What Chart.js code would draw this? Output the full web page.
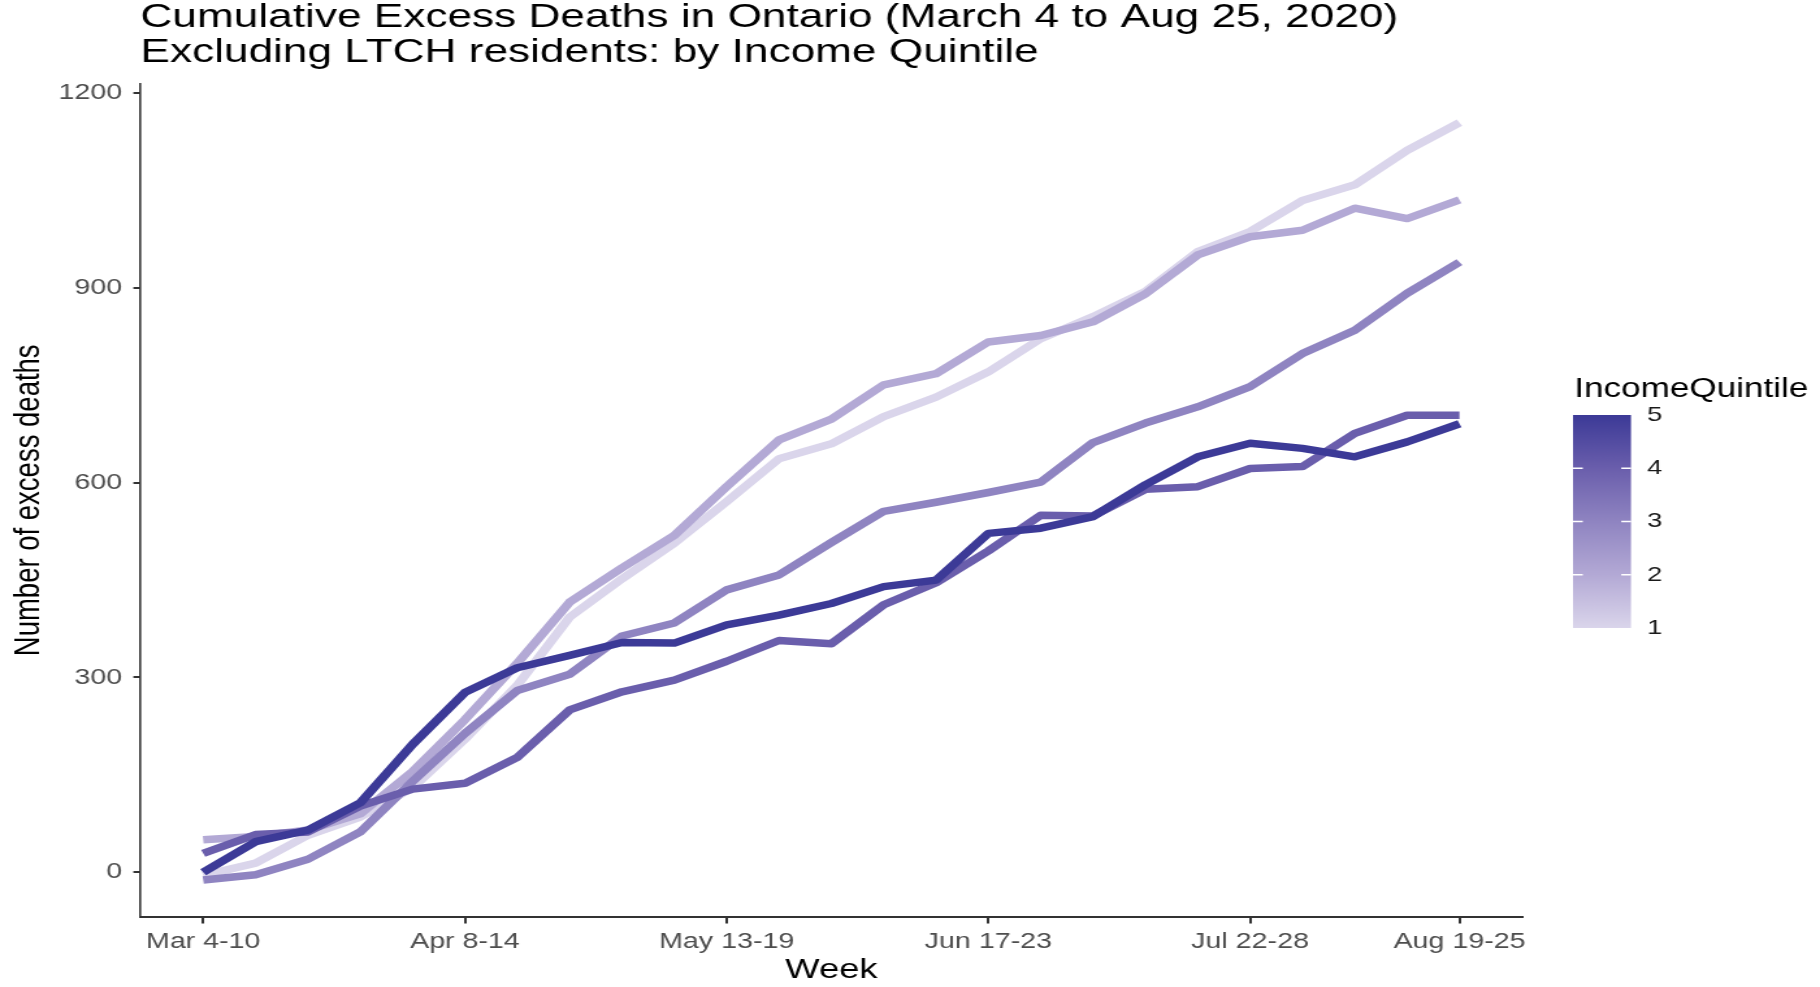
<!DOCTYPE html>
<html>
<head>
<meta charset="utf-8">
<title>Cumulative Excess Deaths in Ontario by Income Quintile</title>
<script src="https://cdn.jsdelivr.net/npm/chart.js@4.4.1/dist/chart.umd.min.js"></script>
<style>
  html, body { margin: 0; padding: 0; background: #fff; }
</style>
</head>
<body>
<!-- the picture is drawn 1400 wide and stretched to 1820, like the original export -->
<canvas id="myChart" width="1400" height="987" style="display:block;width:1820px;height:987px"></canvas>
<script>
const weeks = ['Mar 4-10', 'Mar 11-17', 'Mar 18-24', 'Mar 25-31', 'Apr 1-7', 'Apr 8-14', 'Apr 15-21',
    'Apr 22-28', 'Apr 29-May 5', 'May 6-12', 'May 13-19', 'May 20-26', 'May 27-Jun 2', 'Jun 3-9',
    'Jun 10-16', 'Jun 17-23', 'Jun 24-30', 'Jul 1-7', 'Jul 8-14', 'Jul 15-21', 'Jul 22-28',
    'Jul 29-Aug 4', 'Aug 5-11', 'Aug 12-18', 'Aug 19-25'];
const tickWeeks = [0, 5, 10, 15, 20, 24];
const yTicks = [0, 300, 600, 900, 1200];
const quintiles = [1, 2, 3, 4, 5];

// cumulative excess deaths per week, one array per income quintile
const q1 = [-5, 14, 57, 85, 130, 205, 288, 393, 452, 507, 571, 637, 660, 702, 732, 771, 822, 856, 895, 956, 987, 1035, 1059, 1112, 1155];
const q2 = [50, 55, 65, 90, 155, 235, 322, 416, 469, 519, 594, 666, 698, 751, 768, 817, 827, 848, 891, 951, 979, 989, 1023, 1007, 1036];
const q3 = [-12, -4, 20, 62, 140, 214, 280, 305, 364, 384, 435, 458, 508, 556, 570, 585, 601, 662, 692, 717, 748, 799, 835, 892, 940];
const q4 = [29, 58, 62, 102, 128, 137, 177, 250, 278, 296, 325, 357, 352, 412, 446, 495, 550, 549, 590, 594, 622, 625, 676, 704, 704];
const q5 = [0, 47, 65, 107, 197, 277, 315, 334, 354, 353, 381, 396, 414, 440, 450, 522, 530, 548, 597, 640, 661, 653, 640, 663, 691];

const quintileData = [q1, q2, q3, q4, q5];
const quintileColours = ['#dad5eb', '#b3a9d5', '#8f84c1', '#6a5eac', '#3c3a97'];

const fontFamily = "'Liberation Sans', Arial, sans-serif";

// gradient colour bar legend, drawn by hand like ggplot's guide_colourbar
const colourBar = {
    id: 'colourBar',
    afterDraw(chart) {
        const ctx = chart.ctx;
        const left = 1210, width = 44.6, top = 415, bottom = 628;
        const yOf = q => bottom - (q - 1) / (quintiles.length - 1) * (bottom - top);

        ctx.save();
        ctx.fillStyle = '#000';
        ctx.font = `27px ${fontFamily}`;
        ctx.textAlign = 'left';
        ctx.textBaseline = 'alphabetic';
        ctx.fillText('IncomeQuintile', 1211, 397);

        let grad = ctx.createLinearGradient(0, top, 0, bottom);
        for (let i = 0; i < quintiles.length; i++) {
            grad.addColorStop(1 - i / (quintiles.length - 1), quintileColours[i]);
        }
        ctx.fillStyle = grad;
        ctx.fillRect(left, top, width, bottom - top);

        ctx.strokeStyle = '#fff';
        ctx.lineWidth = 1.5;
        quintiles.slice(1, -1).forEach(q => {
            let y = yOf(q);
            ctx.beginPath();
            ctx.moveTo(left, y);
            ctx.lineTo(left + 7.5, y);
            ctx.moveTo(left + width - 7.5, y);
            ctx.lineTo(left + width, y);
            ctx.stroke();
        });

        ctx.fillStyle = '#1a1a1a';
        ctx.font = `21px ${fontFamily}`;
        ctx.textBaseline = 'middle';
        quintiles.forEach(q => ctx.fillText(String(q), 1267, yOf(q)));
        ctx.restore();
    }
};

let ctx = document.getElementById('myChart').getContext('2d');

new Chart(ctx, {
    type: 'line',
    data: {
        datasets: quintiles.map((q, i) => ({
            label: 'Quintile ' + q,
            data: quintileData[i].map((v, w) => ({ x: w, y: v })),
            borderColor: quintileColours[i],
            backgroundColor: quintileColours[i],
            borderWidth: 7.5,
            borderCapStyle: 'butt',
            borderJoinStyle: 'round',
            pointRadius: 0,
            tension: 0,
            fill: false,
            order: quintiles.length - i
        }))
    },
    options: {
        responsive: false,
        devicePixelRatio: 1,
        animation: false,
        layout: { padding: { left: 0, right: 229, top: 0, bottom: 0 } },
        plugins: {
            legend: { display: false },
            tooltip: { enabled: false },
            title: {
                display: true,
                text: ['Cumulative Excess Deaths in Ontario (March 4 to Aug 25, 2020)',
                    'Excluding LTCH residents: by Income Quintile'],
                align: 'start',
                fullSize: false,
                color: '#000',
                font: { family: fontFamily, size: 34, weight: 'normal', lineHeight: 35 / 34 },
                padding: { top: 0.5, bottom: 13.1 }
            }
        },
        scales: {
            x: {
                type: 'linear',
                min: -1.2,
                max: 25.2,
                afterBuildTicks: axis => { axis.ticks = tickWeeks.map(v => ({ value: v })); },
                afterFit: axis => { axis.height = 70; },
                ticks: {
                    autoSkip: false,
                    maxRotation: 0,
                    padding: 5,
                    color: '#4d4d4d',
                    font: { family: fontFamily, size: 22 },
                    callback: v => weeks[v]
                },
                grid: { drawOnChartArea: false, drawTicks: true, tickLength: 6.5, color: '#333', lineWidth: 2 },
                border: { display: true, color: '#333', width: 2 },
                title: {
                    display: true,
                    text: 'Week',
                    color: '#000',
                    font: { family: fontFamily, size: 28 },
                    padding: { top: 0, bottom: 0 }
                }
            },
            y: {
                min: -69,
                max: 1215,
                afterBuildTicks: axis => { axis.ticks = yTicks.map(v => ({ value: v })); },
                afterFit: axis => { axis.width = 108; },
                ticks: {
                    padding: 8.6,
                    color: '#4d4d4d',
                    font: { family: fontFamily, size: 22 },
                    callback: v => String(v)
                },
                grid: { drawOnChartArea: false, drawTicks: true, tickLength: 5.4, color: '#333', lineWidth: 2 },
                border: { display: true, color: '#333', width: 1.6 },
                title: {
                    display: true,
                    text: 'Number of excess deaths',
                    color: '#000',
                    font: { family: fontFamily, size: 27.5 },
                    padding: { top: 6, bottom: 0 }
                }
            }
        }
    },
    plugins: [colourBar]
});
</script>
</body>
</html>
